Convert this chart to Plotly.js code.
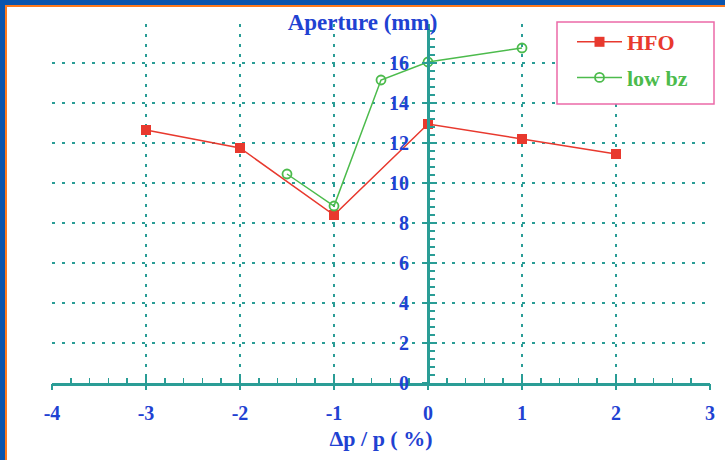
<!DOCTYPE html>
<html>
<head>
<meta charset="utf-8">
<script src="https://cdn.plot.ly/plotly-3.0.1.min.js"></script>
<style>
  html, body { margin: 0; padding: 0; background: #ffffff; }
  #wrap { position: relative; width: 725px; height: 460px; overflow: hidden; }
  #chart { position: absolute; left: 0; top: 0; width: 725px; height: 460px; }
  .b { position: absolute; pointer-events: none; }
</style>
</head>
<body>
<div id="wrap">
  <div id="chart"></div>
  <div class="b" style="left:0;top:0;width:725px;height:5px;background:#0a55ae;"></div>
  <div class="b" style="left:0;top:0;width:5px;height:460px;background:#0a55ae;"></div>
  <div class="b" style="left:5px;top:5px;width:720px;height:2px;background:#ff7a1c;"></div>
  <div class="b" style="left:5px;top:5px;width:2px;height:455px;background:#ff7a1c;"></div>
</div>
<script>
// Data
const hfoX = [-3, -2, -1, 0, 1, 2];
const hfoY = [12.65, 11.75, 8.4, 12.95, 12.2, 11.45];
const lowbzX = [-1.5, -1, -0.5, 0, 1];
const lowbzY = [10.45, 8.85, 15.15, 16.05, 16.75];
const xTicks = [-4, -3, -2, -1, 0, 1, 2, 3];
const yTicks = [0, 2, 4, 6, 8, 10, 12, 14, 16];

const teal = '#2a9d96';
const blue = '#1f42d2';
const red = '#e8392e';
const green = '#4cbb4c';
const serif = 'Liberation Serif, Times New Roman, serif';

const traces = [
  {
    x: hfoX, y: hfoY, name: 'HFO', type: 'scatter', mode: 'lines+markers',
    line: {color: red, width: 1.5},
    marker: {symbol: 'square', size: 10, color: red},
    legendgroup: 'a'
  },
  {
    x: lowbzX, y: lowbzY, name: 'low bz', type: 'scatter', mode: 'lines+markers',
    line: {color: green, width: 1.5},
    marker: {symbol: 'circle-open', size: 9, color: green, line: {width: 1.8}},
    legendgroup: 'b'
  },
  // invisible helper trace for secondary axes (outside tick halves)
  {x: [0], y: [0], xaxis: 'x2', yaxis: 'y2', mode: 'markers', marker: {opacity: 0}, showlegend: false, hoverinfo: 'skip'}
];

const layout = {
  width: 725, height: 460,
  margin: {l: 52, r: 15, t: 24, b: 77},
  paper_bgcolor: '#ffffff', plot_bgcolor: '#ffffff',
  showlegend: true,
  title: {
    text: '<b>Aperture (mm)</b>',
    font: {family: serif, size: 23, color: blue},
    x: 0.5, xanchor: 'center', y: 0.952, yanchor: 'middle'
  },
  xaxis: {
    range: [-4, 3], tickvals: xTicks, ticktext: xTicks.map(v => '<b>' + v + '</b>'),
    showgrid: true, gridcolor: teal, gridwidth: 1.5, griddash: '3px,7px',
    zeroline: false, showline: true, linecolor: teal, linewidth: 2.5,
    ticks: 'inside', ticklen: 8, tickwidth: 2, tickcolor: teal,
    minor: {dtick: 0.2, tick0: 0, ticks: 'inside', ticklen: 5, tickwidth: 1.5, tickcolor: teal, showgrid: false},
    tickfont: {family: serif, size: 20, color: blue},
    title: {text: '<b>Δp / p ( %)</b>', font: {family: serif, size: 22, color: blue}, standoff: 8},
    ticklabelstandoff: 10,
    fixedrange: true
  },
  yaxis: {
    range: [0, 17.95], tickvals: yTicks, ticktext: yTicks.map(v => '<b>' + v + '</b>'),
    anchor: 'free', position: 4 / 7,
    showgrid: true, gridcolor: teal, gridwidth: 1.5, griddash: '3px,7px',
    zeroline: false, showline: true, linecolor: teal, linewidth: 2.5,
    ticks: 'inside', ticklen: 7, tickwidth: 2, tickcolor: teal,
    minor: {dtick: 0.4, tick0: 0, ticks: 'inside', ticklen: 5, tickwidth: 1.5, tickcolor: teal, showgrid: false},
    tickfont: {family: serif, size: 20, color: blue},
    ticklabelstandoff: 14,
    fixedrange: true
  },
  xaxis2: {
    range: [-4, 3], overlaying: 'x', anchor: 'y', side: 'bottom',
    tickvals: xTicks, showticklabels: false, showgrid: false, zeroline: false, showline: false,
    ticks: 'outside', ticklen: 6, tickwidth: 2, tickcolor: teal, fixedrange: true
  },
  yaxis2: {
    range: [0, 17.95], overlaying: 'y', anchor: 'free', position: 4 / 7, side: 'left',
    tickvals: yTicks, showticklabels: false, showgrid: false, zeroline: false, showline: false,
    ticks: 'outside', ticklen: 6, tickwidth: 2, tickcolor: teal, fixedrange: true
  },
  shapes: [
    {
      type: 'rect', xref: 'paper', yref: 'paper', layer: 'above',
      x0: (557 - 52) / 658, x1: (714 - 52) / 658,
      y0: (383 - 104) / 359, y1: (383 - 22) / 359,
      fillcolor: '#ffffff', line: {color: '#ec6aa8', width: 1.5}
    }
  ],
  legend: {
    x: (572 - 52) / 658, xanchor: 'left', y: (383 - 21) / 359, yanchor: 'top',
    bgcolor: 'rgba(0,0,0,0)', borderwidth: 0,
    font: {family: serif, size: 22},
    traceorder: 'grouped', tracegroupgap: 4,
    itemwidth: 45
  }
};

Plotly.newPlot('chart', traces, layout, {displayModeBar: false, staticPlot: true}).then(function () {
  const colors = [red, green];
  document.querySelectorAll('.legendtext').forEach(function (t, i) {
    t.style.fill = colors[i % 2];
    t.style.fontWeight = 'bold';
  });
});
</script>
</body>
</html>
